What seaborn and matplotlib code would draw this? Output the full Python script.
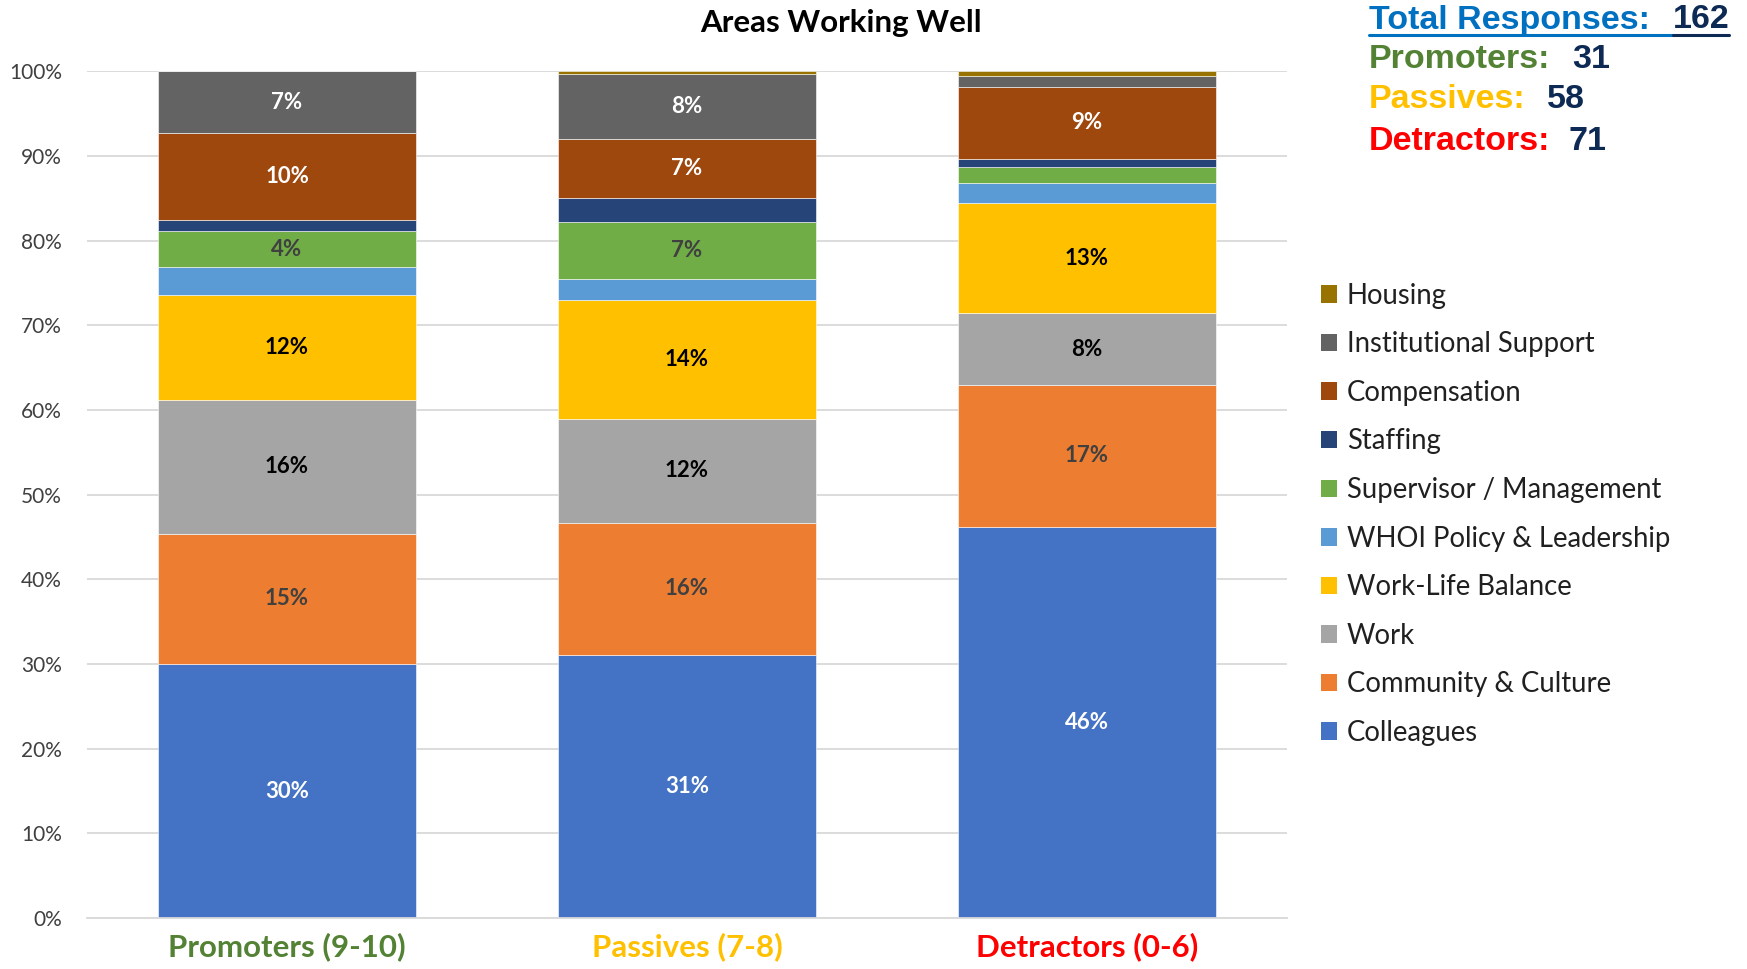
import numpy as np
import pandas as pd
import seaborn as sns
import matplotlib.pyplot as plt
from matplotlib.patches import Patch
from matplotlib.lines import Line2D

# groups on the x axis
groups = ["Promoters (9-10)", "Passives (7-8)", "Detractors (0-6)"]
group_colors = ["#548235", "#FFC000", "#FF0000"]

# topics, bottom of the stack first
topics = ["Colleagues", "Community & Culture", "Work", "Work-Life Balance",
          "WHOI Policy & Leadership", "Supervisor / Management", "Staffing",
          "Compensation", "Institutional Support", "Housing"]
topic_colors = ["#4472C4", "#ED7D31", "#A5A5A5", "#FFC000", "#5B9BD5",
                "#70AD47", "#264478", "#9E480E", "#636363", "#997300"]
label_colors = ["white", "#404040", "black", "black", "white",
                "#404040", "white", "white", "white", "white"]

# percent of responses per topic (Promoters, Passives, Detractors)
colleagues = [30.0, 31.1, 46.2]
community = [15.4, 15.6, 16.8]
work = [15.8, 12.2, 8.4]
work_life = [12.4, 14.1, 13.0]
whoi_policy = [3.3, 2.5, 2.4]
supervisor = [4.2, 6.7, 1.9]
staffing = [1.3, 2.8, 0.9]
compensation = [10.3, 7.0, 8.6]
institutional = [7.3, 7.7, 1.3]
housing = [0.0, 0.3, 0.5]

counts_labels = ["Promoters:", "Passives:", "Detractors:"]
counts = [31, 58, 71]
total = 162

values = [colleagues, community, work, work_life, whoi_policy, supervisor,
          staffing, compensation, institutional, housing]

rows = []
for t, vals in zip(topics, values):
    for gi, v in enumerate(vals):
        rows.append({"pos": gi, "topic": t, "pct": v})
df = pd.DataFrame(rows)

sns.set_style("white")
plt.rcParams["font.family"] = ["Lato", "DejaVu Sans"]

fig = plt.figure(figsize=(17.47, 9.69), dpi=100)
ax = fig.add_axes([0.0498, 0.0526, 0.6869, 0.8738])

# seaborn stacks the last hue level at the bottom
sns.histplot(data=df, x="pos", hue="topic", weights="pct", discrete=True,
             multiple="stack", hue_order=topics[::-1],
             palette=dict(zip(topics, topic_colors)), shrink=0.646,
             alpha=1, edgecolor="white", linewidth=0.4, legend=False, ax=ax)

ax.set_xlim(-0.5, 2.5)
ax.set_ylim(0, 100)
ax.set_yticks(np.arange(0, 101, 10))
ax.set_yticklabels([f"{v}%" for v in range(0, 101, 10)], fontsize=15, color="#404040")
ax.yaxis.grid(True, color="#D9D9D9", linewidth=1.3)
ax.set_axisbelow(True)
for s in ["left", "right", "top"]:
    ax.spines[s].set_visible(False)
ax.spines["bottom"].set_color("#D9D9D9")
ax.spines["bottom"].set_linewidth(1.3)
ax.tick_params(axis="both", length=0)
ax.set_ylabel("")
ax.set_xlabel("")
ax.set_xticks(range(len(groups)))
ax.set_xticklabels(groups, fontsize=22.5, fontweight="bold")
for lbl, c in zip(ax.get_xticklabels(), group_colors):
    lbl.set_color(c)
ax.tick_params(axis="x", pad=10)
ax.tick_params(axis="y", pad=18)

# segment labels
arr = np.array(values)
cum = np.cumsum(arr, axis=0)
for ti in range(len(topics)):
    for gi in range(len(groups)):
        v = arr[ti, gi]
        if v >= 3.5:
            ax.text(gi, cum[ti, gi] - v / 2, f"{round(v)}%", ha="center", va="center",
                    fontsize=16, fontweight="bold", color=label_colors[ti])

fig.text(841 / 1747, 1 - 23 / 969, "Areas Working Well", fontsize=22.5,
         fontweight="bold", ha="center", va="center", color="black")

# legend, top entry first
handles = [Patch(facecolor=c, edgecolor="none") for c in topic_colors[::-1]]
leg = fig.legend(handles, topics[::-1], loc="upper left",
                 bbox_to_anchor=(1296 / 1747, 1 - 258 / 969), frameon=False,
                 fontsize=19.8, handlelength=0.6, handleheight=0.6,
                 handletextpad=0.35, labelspacing=0.82)
for txt in leg.get_texts():
    txt.set_color("#202020")

# response counts
navy = "#0D2A55"
fnt = ["Liberation Sans", "DejaVu Sans"]
fig.text(1369 / 1747, 1 - 20 / 969, "Total Responses:", color="#0070C0", fontsize=24.5,
         fontweight="bold", family=fnt, va="center", ha="left")
fig.text(1673 / 1747, 1 - 20 / 969, str(total), color=navy, fontsize=24.5,
         fontweight="bold", family=fnt, va="center", ha="left")
fig.add_artist(Line2D([1369 / 1747, 1673 / 1747], [1 - 35 / 969] * 2, color="#0070C0", lw=2.2))
fig.add_artist(Line2D([1673 / 1747, 1729 / 1747], [1 - 35 / 969] * 2, color=navy, lw=2.2))

num_x = [1572, 1547, 1568]
ys = [59, 100, 141]
for lab, n, c, nx, y in zip(counts_labels, counts, group_colors, num_x, ys):
    fig.text(1369 / 1747, 1 - y / 969, lab, color=c, fontsize=24.5, fontweight="bold",
             family=fnt, va="center", ha="left")
    fig.text(nx / 1747, 1 - y / 969, str(n), color=navy, fontsize=24.5, fontweight="bold",
             family=fnt, va="center", ha="left")

fig.savefig("out.png", dpi=100)
